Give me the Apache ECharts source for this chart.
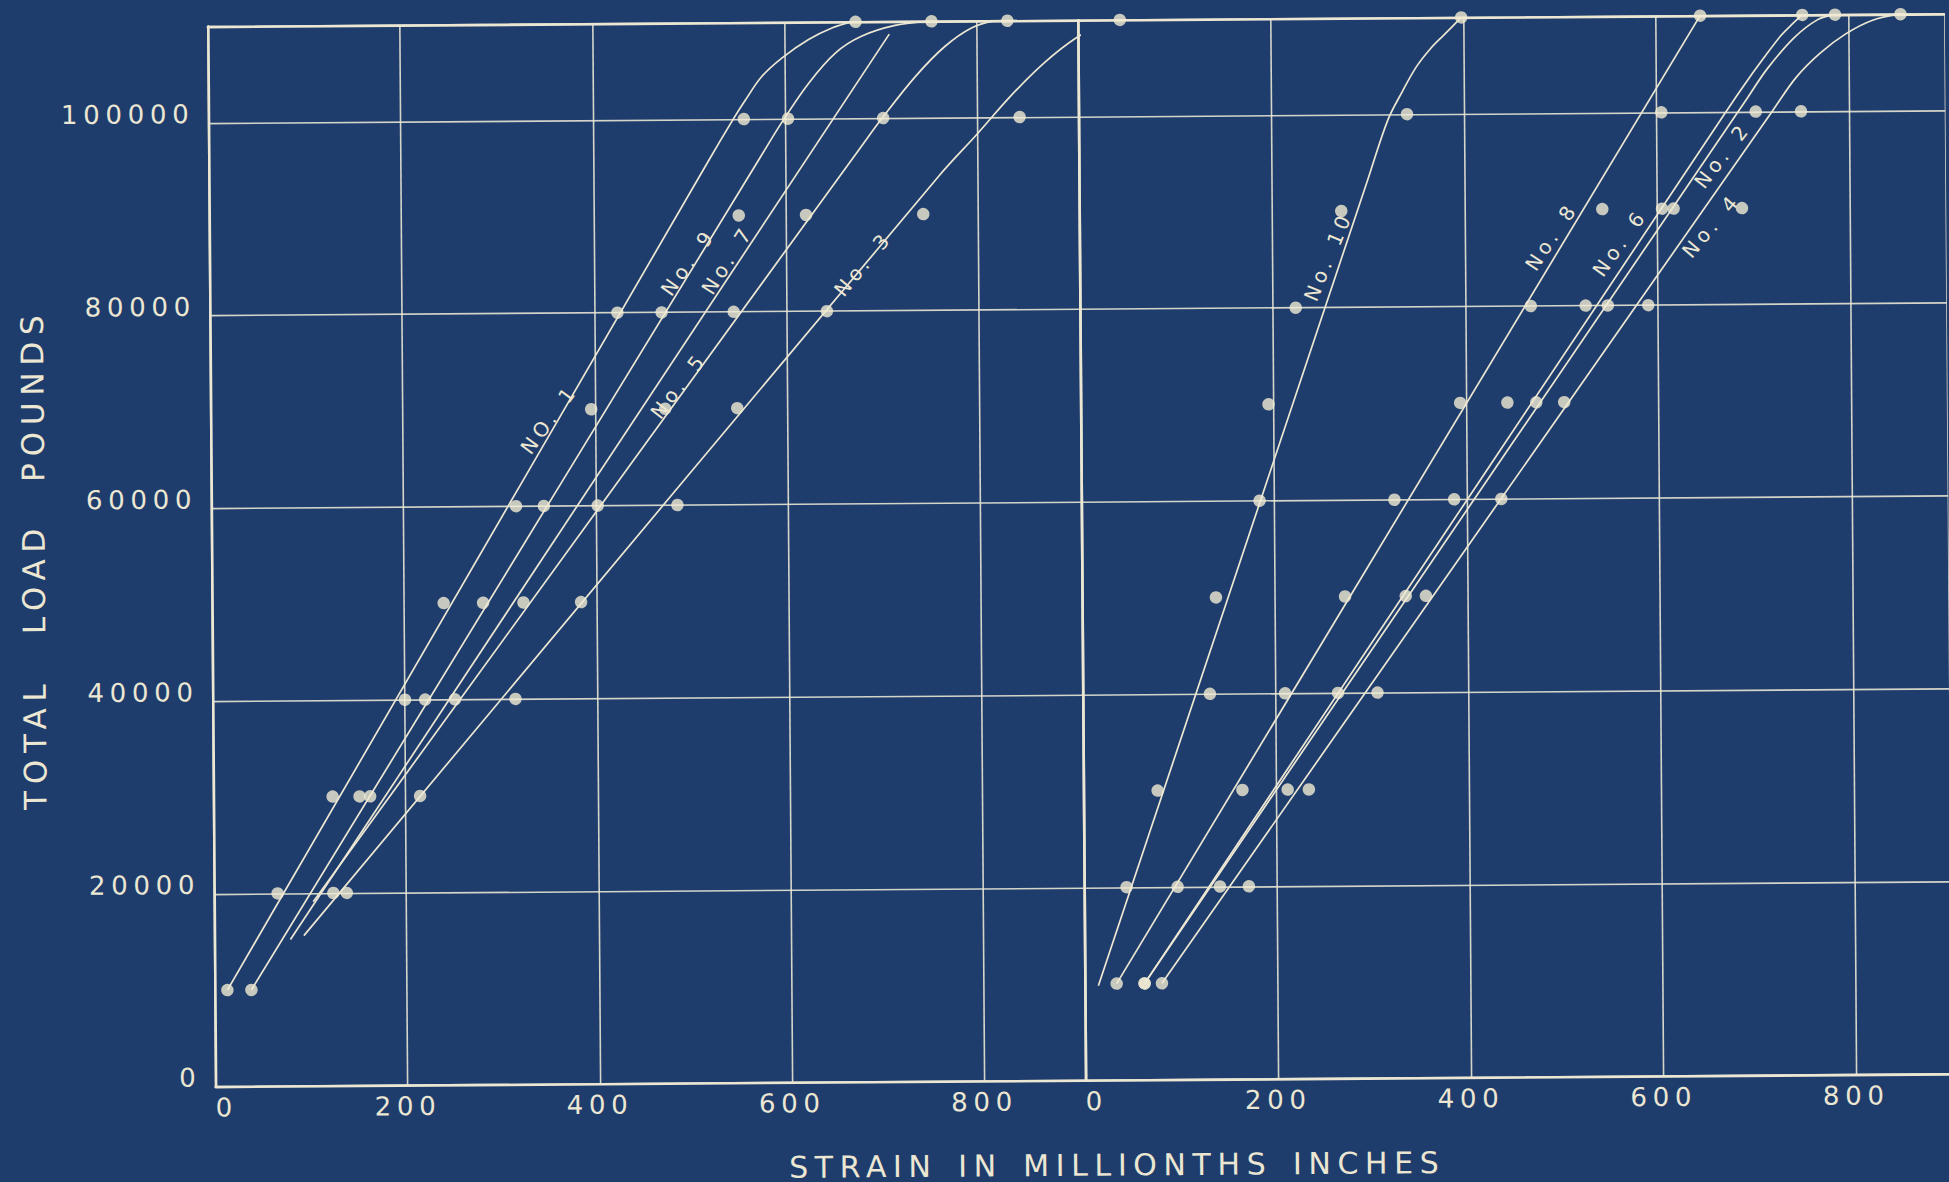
<!DOCTYPE html>
<html>
<head>
<meta charset="utf-8">
<title>Load-strain curves</title>
<script src="https://cdn.jsdelivr.net/npm/echarts@6/dist/echarts.min.js"></script>
<style>
  html, body { margin: 0; padding: 0; background: #1f3d6c; overflow: hidden; }
  #chart { width: 1949px; height: 1182px; transform: rotate(-0.42deg); transform-origin: 50% 50%; }
  /* wide, hand-lettered look */
  #chart text { letter-spacing: 0.22em; word-spacing: 0.15em; }
</style>
</head>
<body>
<div id="chart"></div>
<script>
// Load steps of the test, pounds
const loadSteps = [10000, 20000, 30000, 40000, 50000, 60000, 70000, 80000, 90000, 100000, 110000];

// Observed strain (millionths of an inch) at each load step; null = not plotted
// Left group
const strainNo1 = [13, 66, 124, 200, 241, 317, 396, 424, null, 557, 674];
const strainNo9 = [38, 124, 152, 221, 282, 346, null, 470, 551, 603, 753];
const strainNo5 = [null, null, 163, 252, 324, 402, 473, 545, 621, 702, 832];
const strainNo3 = [null, 138, 215, 315, 384, 485, 548, 642, 743, 844, 949];
// Right group
const strainNo10 = [null, 44, 77, 132, 139, 185, 195, 224, 272, 341, 398];
const strainNo8 = [33, 97, 165, 210, 273, 325, 394, 468, 543, 605, 646];
const strainNo6 = [62, 141, 212, 265, 336, 387, 443, 525, 605, 703, 752];
const strainNo2 = [62, null, null, null, null, null, 473, 548, 617, null, 786];
const strainNo4 = [80, 171, 234, 306, 357, 436, 502, 590, 688, 750, 854];

// Faired curves, [strain, load]: straight run, then the bend into the top
const curveNo1 = [[13, 10000], [520, 95700], [546, 100000], [559, 102000], [576, 104400], [597, 106300], [625, 108200], [650, 109400], [670, 110000]];
const curveNo9 = [[38, 10000], [575, 96200], [597, 99700], [625, 103700], [653, 106800], [680, 108500], [715, 109600], [750, 110000]];
const curveNo7 = [[79, 15200], [709, 108700]];
const curveNo5 = [[103, 19100], [680, 97200], [701, 100000], [736, 104300], [767, 107400], [795, 109300], [818, 110000]];
const curveNo3 = [[93, 15600], [760, 94000], [800, 98300], [835, 102200], [870, 105600], [904, 108200], [930, 109500], [949, 110000]];
const curveNo10 = [[14, 9800], [300, 93300], [321, 99400], [336, 102300], [351, 104900], [366, 106800], [380, 108200], [398, 110000]];
const curveNo8 = [[33, 10000], [646, 110000]];
const curveNo6 = [[62, 10000], [670, 99700], [690, 102600], [712, 105600], [730, 107900], [742, 109100], [752, 110000]];
const curveNo2 = [[62, 10000], [695, 101500], [715, 104400], [743, 107600], [768, 109500], [786, 110000]];
const curveNo4 = [[80, 10000], [720, 100000], [745, 103500], [770, 106000], [797, 108000], [825, 109400], [854, 110000]];

// Axis tick values
const strainTicks = [0, 200, 400, 600, 800];
const loadTicks = [0, 20000, 40000, 60000, 80000, 100000];

const ink = '#ece7d3';
const dotColor = '#f1ebd3';
const font = 'DejaVu Sans';

function points(strains) {
  return loadSteps
    .map((load, i) => (strains[i] == null ? null : [strains[i], load]))
    .filter(Boolean);
}

// Specimens: curve, observations, panel, and where the name is lettered
const specimens = [
  { name: 'NO. 1', curve: curveNo1, obs: strainNo1, panel: 0, at: [352, 69000], angle: 53 },
  { name: 'No. 9', curve: curveNo9, obs: strainNo9, panel: 0, at: [498, 85200], angle: 54 },
  { name: 'No. 7', curve: curveNo7, obs: null, panel: 0, at: [539, 85400], angle: 57 },
  { name: 'No. 5', curve: curveNo5, obs: strainNo5, panel: 0, at: [487, 72400], angle: 52 },
  { name: 'No. 3', curve: curveNo3, obs: strainNo3, panel: 0, at: [680, 84900], angle: 50 },
  { name: 'No. 10', curve: curveNo10, obs: strainNo10, panel: 1, at: [258, 85300], angle: 67 },
  { name: 'No. 8', curve: curveNo8, obs: strainNo8, panel: 1, at: [490, 87200], angle: 56 },
  { name: 'No. 6', curve: curveNo6, obs: strainNo6, panel: 1, at: [561, 86500], angle: 54 },
  { name: 'No. 2', curve: curveNo2, obs: strainNo2, panel: 1, at: [668, 95500], angle: 52 },
  { name: 'No. 4', curve: curveNo4, obs: strainNo4, panel: 1, at: [656, 88200], angle: 49 }
];

const series = [];
specimens.forEach(s => {
  series.push({
    type: 'line',
    name: s.name,
    xAxisIndex: s.panel,
    yAxisIndex: s.panel,
    data: s.curve,
    showSymbol: false,
    smooth: 0.35,
    clip: false,
    z: 3,
    lineStyle: { color: ink, width: 1.7 },
    markPoint: {
      symbol: 'circle',
      symbolSize: 1,
      itemStyle: { color: 'rgba(0,0,0,0)' },
      label: {
        show: true,
        formatter: s.name,
        color: ink,
        fontFamily: font,
        fontSize: 20,
        rotate: s.angle,
        position: 'inside'
      },
      data: [{ coord: s.at }]
    }
  });
  if (s.obs) {
    series.push({
      type: 'scatter',
      name: s.name + ' obs',
      xAxisIndex: s.panel,
      yAxisIndex: s.panel,
      data: points(s.obs),
      symbolSize: 12.5,
      clip: false,
      z: 4,
      itemStyle: { color: dotColor }
    });
  }
});

const splitLine = { show: true, lineStyle: { color: 'rgba(232,229,212,0.9)', width: 1.6 } };
const border = { show: true, onZero: false, lineStyle: { color: ink, width: 2.6 } };
const tickLabel = { color: ink, fontFamily: font, fontSize: 26 };
const strainLabel = Object.assign({}, tickLabel, {
  margin: 8, showMaxLabel: false, alignMinLabel: 'left',
  formatter: v => (strainTicks.includes(v) ? String(v) : '')
});

const scaleX = [0.961, 0.969];
const option = {
  backgroundColor: '#1f3d6c',
  animation: false,
  textStyle: { fontFamily: font },
  grid: [
    { left: 212, top: 21, width: 906 * scaleX[0], height: 1060 },
    { left: 1082, top: 21, width: 900 * scaleX[1], height: 1060 }
  ],
  xAxis: [
    {
      type: 'value', gridIndex: 0, min: strainTicks[0], max: 906, interval: 200,
      axisLine: border, axisTick: { show: false }, splitLine, axisLabel: strainLabel
    },
    {
      type: 'value', gridIndex: 1, min: strainTicks[0], max: 900, interval: 200,
      axisLine: border, axisTick: { show: false }, splitLine, axisLabel: strainLabel
    },
    // top borders
    { type: 'value', gridIndex: 0, position: 'top', min: 0, max: 906, axisLine: border, axisTick: { show: false }, axisLabel: { show: false }, splitLine: { show: false } },
    { type: 'value', gridIndex: 1, position: 'top', min: 0, max: 900, axisLine: border, axisTick: { show: false }, axisLabel: { show: false }, splitLine: { show: false } }
  ],
  yAxis: [
    {
      type: 'value', gridIndex: 0, min: 0, max: 110000, interval: 20000,
      axisLine: border, axisTick: { show: false }, splitLine,
      axisLabel: Object.assign({}, tickLabel, {
        margin: 14, showMaxLabel: false, verticalAlign: 'bottom', lineHeight: 18,
        formatter: v => (loadTicks.includes(v) ? String(v) : '')
      })
    },
    {
      type: 'value', gridIndex: 1, min: 0, max: 110000, interval: 20000,
      axisLine: border, axisTick: { show: false }, splitLine,
      axisLabel: { show: false }
    }
  ],
  graphic: [
    {
      type: 'text',
      x: 1113,
      y: 1166,
      style: {
        text: 'STRAIN IN MILLIONTHS INCHES',
        fill: ink,
        font: '30px "DejaVu Sans"',
        align: 'center',
        verticalAlign: 'middle'
      }
    },
    {
      type: 'text',
      x: 34,
      y: 554,
      rotation: Math.PI / 2,
      style: {
        text: '{w|TOTAL}{g| }{w|LOAD}{g| }{w|POUNDS}',
        rich: {
          w: { fill: ink, fontFamily: font, fontSize: 31 },
          g: { width: 74, fontSize: 31 }
        },
        align: 'center',
        verticalAlign: 'middle'
      }
    }
  ],
  series
};

const chart = echarts.init(document.getElementById('chart'), null, { renderer: 'svg' });
chart.setOption(option);
</script>
</body>
</html>
